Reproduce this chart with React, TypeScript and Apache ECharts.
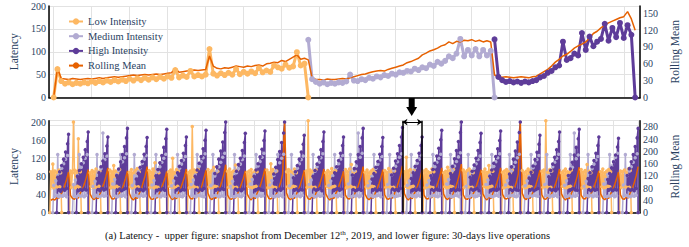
import React, { useEffect, useRef } from 'react';
import * as echarts from 'echarts';

const SERIES_NAMES = ['Low Intensity', 'Medium Intensity', 'High Intensity', 'Rolling Mean'];
const COLORS = ['#fdb863', '#b2abd2', '#5e3c99', '#e66101'];
const TEXT_COLOR = '#2a3f5f';
const FONT = "'Liberation Serif', 'Times New Roman', Times, serif";

// ---------- upper panel (snapshot, one sample per index) ----------
const topLow = [
  0, 62, 36, 30, 33, 29, 32, 30, 33, 31,
  35, 32, 36, 33, 37, 34, 38, 35, 39, 36,
  41, 37, 42, 38, 43, 39, 44, 40, 45, 41,
  46, 43, 60, 44, 48, 45, 58, 46, 49, 46,
  50, 106, 52, 48, 53, 49, 54, 50, 62, 51,
  56, 52, 57, 53, 64, 55, 59, 56, 70, 66,
  63, 72, 65, 68, 99, 70, 74, 0,
];
const TOP_MEDIUM_START = 67;
const topMedium = [
  126, 40, 34, 30, 33, 29, 32, 30, 33, 32,
  35, 50, 37, 36, 40, 38, 43, 41, 46, 44,
  49, 47, 52, 50, 55, 54, 58, 57, 63, 60,
  66, 64, 72, 69, 78, 74, 80, 90, 86, 96,
  128, 90, 104, 92, 106, 90, 104, 92, 102, 0,
];
const TOP_HIGH_START = 116;
const topHigh = [
  127, 45, 38, 34, 36, 33, 35, 32, 35, 33,
  36, 38, 44, 47, 54, 58, 66, 70, 122, 82,
  86, 96, 92, 141, 104, 133, 112, 122, 128, 161,
  124, 152, 132, 163, 130, 158, 137, 0,
];
const topRolling = [
  0, 52, 34, 33, 32, 34, 33, 32, 33, 34,
  33, 34, 35, 34, 35, 36, 37, 36, 37, 38,
  39, 40, 39, 40, 41, 40, 41, 42, 41, 42,
  43, 44, 52, 45, 46, 47, 48, 49, 48, 49,
  50, 74, 56, 52, 51, 53, 52, 54, 56, 55,
  54, 56, 55, 57, 58, 56, 60, 61, 63, 62,
  66, 64, 68, 72, 76, 68, 70, 67, 35, 32,
  32, 31, 33, 32, 32, 33, 34, 33, 35, 37,
  39, 41, 42, 44, 46, 47, 48, 47, 50, 52,
  54, 56, 58, 62, 64, 67, 70, 76, 79, 83,
  85, 88, 92, 94, 99, 96, 100, 99, 102, 101,
  103, 100, 102, 99, 101, 99, 40, 37, 36, 37,
  36, 35, 36, 37, 36, 35, 37, 38, 42, 46,
  50, 56, 63, 68, 74, 77, 82, 88, 92, 95,
  99, 106, 114, 118, 124, 129, 133, 136, 139, 142,
  144, 153, 140, 120,
];
const topLatencyTicks = [0, 50, 100, 150, 200];
const topRollingTicks = [0, 30, 60, 90, 120, 150];
const TOP_ROLLING_MAX = 163;

// ---------- lower panel (30 days, 20 samples per day) ----------
const SAMPLES_PER_DAY = 20;
// low intensity: samples 0..12 of each day
const BOTTOM_LOW_FIRST = 0;
const bottomLow = [
  [0, 90, 57, 107, 55, 92, 58, 89, 56, 94, 57, 88, 0],
  [0, 92, 56, 88, 200, 94, 55, 91, 58, 163, 56, 90, 0],
  [0, 88, 58, 93, 56, 90, 57, 96, 55, 89, 58, 92, 0],
  [0, 94, 55, 90, 57, 104, 56, 92, 58, 88, 55, 95, 0],
  [0, 89, 57, 95, 55, 88, 58, 93, 56, 97, 57, 90, 0],
  [0, 93, 56, 89, 58, 96, 55, 110, 57, 91, 56, 88, 0],
  [0, 90, 58, 94, 56, 120, 57, 89, 55, 95, 58, 92, 0],
  [0, 88, 55, 92, 57, 190, 58, 94, 56, 90, 55, 96, 0],
  [0, 95, 57, 89, 55, 93, 56, 100, 58, 88, 57, 91, 0],
  [0, 91, 56, 96, 58, 89, 57, 92, 55, 105, 56, 94, 0],
  [0, 89, 58, 92, 56, 95, 55, 88, 57, 93, 58, 90, 0],
  [0, 94, 55, 88, 57, 108, 58, 95, 56, 89, 55, 92, 0],
  [0, 90, 57, 95, 55, 91, 56, 89, 58, 96, 57, 88, 0],
  [0, 92, 56, 203, 58, 94, 57, 90, 55, 92, 56, 95, 0],
  [0, 88, 58, 93, 56, 89, 55, 97, 57, 90, 58, 93, 0],
  [0, 95, 55, 90, 57, 96, 58, 106, 56, 88, 55, 91, 0],
  [0, 89, 57, 94, 55, 88, 56, 92, 58, 95, 57, 89, 0],
  [0, 93, 56, 89, 58, 97, 57, 90, 55, 94, 56, 92, 0],
  [0, 90, 58, 122, 56, 92, 55, 95, 57, 89, 58, 94, 0],
  [0, 92, 55, 95, 57, 90, 58, 88, 56, 96, 55, 90, 0],
  [0, 88, 57, 91, 55, 100, 56, 93, 58, 89, 57, 95, 0],
  [0, 94, 56, 89, 58, 93, 57, 96, 55, 91, 56, 88, 0],
  [0, 90, 58, 96, 56, 89, 55, 104, 57, 93, 58, 91, 0],
  [0, 89, 55, 92, 57, 95, 58, 90, 56, 88, 55, 94, 0],
  [0, 93, 57, 88, 55, 91, 56, 96, 58, 92, 57, 89, 0],
  [0, 91, 56, 94, 58, 203, 57, 89, 55, 95, 56, 92, 0],
  [0, 88, 58, 92, 56, 96, 55, 90, 57, 89, 58, 94, 0],
  [0, 95, 55, 89, 57, 93, 58, 106, 56, 91, 55, 88, 0],
  [0, 90, 57, 96, 55, 88, 56, 92, 58, 95, 57, 90, 0],
  [0, 92, 56, 90, 58, 94, 57, 89, 55, 96, 56, 93, 0],
];
// medium intensity: samples 3..19 of each day
const BOTTOM_MEDIUM_FIRST = 3;
const bottomMedium = [
  [0, 60, 36, 70, 38, 128, 35, 88, 37, 98, 36, 108, 38, 118, 35, 126, 0],
  [0, 62, 37, 72, 35, 82, 38, 128, 36, 100, 37, 110, 35, 120, 38, 128, 0],
  [0, 58, 35, 69, 38, 128, 36, 89, 35, 97, 38, 176, 36, 117, 37, 125, 0],
  [0, 63, 38, 73, 36, 84, 35, 93, 37, 128, 36, 112, 38, 121, 35, 130, 0],
  [0, 60, 36, 128, 38, 80, 37, 90, 35, 99, 38, 109, 36, 118, 37, 126, 0],
  [0, 61, 37, 71, 35, 128, 38, 91, 36, 101, 35, 111, 38, 120, 36, 129, 0],
  [0, 59, 35, 70, 38, 80, 36, 128, 37, 98, 36, 107, 35, 116, 38, 124, 0],
  [0, 62, 38, 72, 36, 83, 35, 128, 38, 102, 37, 112, 36, 121, 35, 130, 0],
  [0, 60, 36, 128, 37, 81, 38, 92, 36, 101, 35, 111, 37, 122, 36, 131, 0],
  [0, 58, 37, 69, 35, 128, 36, 88, 38, 97, 36, 107, 35, 117, 38, 125, 0],
  [0, 63, 35, 73, 38, 84, 37, 128, 35, 103, 38, 113, 36, 122, 37, 131, 0],
  [0, 61, 38, 71, 36, 82, 35, 92, 37, 128, 36, 110, 38, 120, 35, 129, 0],
  [0, 59, 36, 128, 35, 79, 38, 89, 36, 98, 37, 108, 35, 117, 38, 125, 0],
  [0, 62, 37, 72, 38, 128, 36, 91, 35, 101, 38, 111, 36, 121, 37, 130, 0],
  [0, 60, 35, 70, 36, 81, 38, 128, 37, 99, 35, 108, 38, 118, 36, 126, 0],
  [0, 63, 38, 128, 35, 83, 37, 93, 36, 103, 38, 176, 35, 122, 37, 131, 0],
  [0, 59, 36, 69, 38, 80, 35, 128, 36, 98, 37, 107, 38, 116, 35, 124, 0],
  [0, 62, 37, 128, 36, 83, 38, 93, 35, 102, 36, 112, 37, 122, 38, 130, 0],
  [0, 60, 35, 70, 38, 128, 36, 90, 37, 99, 35, 109, 38, 118, 36, 127, 0],
  [0, 61, 38, 71, 35, 82, 37, 128, 38, 101, 36, 111, 35, 120, 37, 129, 0],
  [0, 63, 36, 73, 37, 128, 35, 93, 36, 103, 38, 113, 37, 123, 35, 132, 0],
  [0, 58, 37, 128, 35, 79, 38, 89, 37, 98, 35, 108, 36, 117, 38, 125, 0],
  [0, 62, 35, 72, 38, 83, 36, 128, 35, 102, 37, 112, 38, 121, 36, 130, 0],
  [0, 61, 38, 71, 36, 128, 37, 92, 38, 101, 36, 111, 35, 121, 37, 129, 0],
  [0, 59, 36, 70, 35, 80, 38, 128, 36, 99, 38, 108, 37, 117, 36, 126, 0],
  [0, 62, 37, 128, 38, 82, 35, 92, 37, 101, 36, 111, 38, 120, 35, 129, 0],
  [0, 60, 35, 70, 36, 81, 38, 128, 35, 100, 37, 176, 36, 119, 38, 127, 0],
  [0, 58, 38, 69, 37, 128, 36, 88, 38, 97, 35, 107, 37, 116, 36, 124, 0],
  [0, 63, 36, 73, 35, 84, 37, 128, 36, 103, 38, 113, 35, 122, 37, 131, 0],
  [0, 61, 37, 128, 38, 82, 36, 92, 35, 101, 37, 111, 36, 121, 38, 130, 0],
];
// high intensity: samples 7..19 of each day, then back to 0
const BOTTOM_HIGH_FIRST = 7;
const bottomHigh = [
  [0, 78, 50, 90, 47, 104, 52, 118, 49, 134, 53, 152, 173],
  [0, 80, 48, 93, 51, 108, 49, 122, 52, 139, 50, 157, 178],
  [0, 75, 51, 88, 48, 101, 53, 114, 50, 130, 52, 147, 167],
  [0, 82, 49, 96, 52, 112, 48, 128, 51, 146, 53, 165, 186],
  [0, 74, 52, 87, 49, 100, 51, 113, 48, 129, 52, 146, 166],
  [0, 81, 48, 95, 51, 110, 50, 126, 53, 144, 49, 163, 184],
  [0, 76, 50, 88, 53, 102, 48, 115, 51, 131, 50, 148, 167],
  [0, 80, 51, 94, 48, 109, 52, 124, 49, 141, 53, 160, 182],
  [0, 86, 49, 101, 52, 118, 50, 136, 53, 156, 51, 177, 200],
  [0, 79, 52, 91, 49, 106, 51, 120, 48, 137, 52, 155, 175],
  [0, 80, 48, 94, 51, 108, 53, 123, 50, 140, 49, 159, 180],
  [0, 85, 51, 100, 48, 117, 52, 135, 49, 155, 53, 176, 200],
  [0, 77, 49, 90, 52, 104, 48, 118, 51, 134, 50, 151, 171],
  [0, 80, 52, 93, 49, 107, 51, 122, 53, 139, 48, 157, 178],
  [0, 75, 48, 88, 51, 101, 53, 115, 49, 131, 52, 148, 167],
  [0, 83, 51, 97, 48, 112, 50, 128, 52, 146, 49, 165, 186],
  [0, 74, 49, 86, 52, 100, 48, 113, 51, 129, 50, 146, 166],
  [0, 83, 52, 98, 49, 114, 51, 130, 48, 148, 53, 167, 188],
  [0, 75, 48, 88, 51, 102, 49, 115, 52, 131, 50, 148, 167],
  [0, 81, 51, 95, 48, 109, 52, 125, 50, 142, 49, 161, 182],
  [0, 86, 49, 102, 52, 119, 48, 137, 51, 157, 50, 177, 200],
  [0, 78, 52, 91, 49, 105, 51, 120, 53, 137, 48, 155, 175],
  [0, 80, 48, 94, 51, 109, 50, 124, 49, 141, 52, 159, 180],
  [0, 85, 51, 101, 48, 118, 52, 136, 50, 156, 49, 177, 200],
  [0, 76, 49, 89, 52, 103, 48, 117, 51, 133, 53, 151, 171],
  [0, 79, 52, 93, 49, 107, 51, 122, 48, 139, 52, 157, 178],
  [0, 82, 48, 96, 51, 111, 53, 127, 50, 144, 49, 163, 184],
  [0, 75, 51, 88, 48, 101, 52, 115, 49, 131, 51, 148, 167],
  [0, 73, 49, 86, 52, 99, 48, 112, 51, 127, 50, 145, 164],
  [0, 82, 52, 97, 49, 112, 51, 128, 48, 146, 53, 165, 186],
];
// rolling mean: 10 samples per day
const ROLLING_SAMPLES_PER_DAY = 10;
const bottomRolling = [
  [40, 44, 41, 48, 46, 58, 70, 88, 108, 132], [56, 46, 43, 52, 47, 64, 74, 92, 114, 140],
  [60, 48, 42, 50, 45, 60, 78, 95, 118, 146], [58, 45, 44, 54, 48, 66, 72, 90, 112, 136],
  [62, 47, 41, 49, 46, 62, 76, 98, 120, 150], [55, 44, 43, 52, 47, 60, 74, 92, 110, 134],
  [60, 48, 42, 50, 45, 64, 78, 96, 116, 142], [58, 46, 44, 53, 48, 62, 72, 90, 114, 138],
  [63, 47, 42, 51, 46, 66, 80, 100, 124, 156], [57, 45, 43, 50, 47, 61, 75, 93, 112, 136],
  [60, 48, 41, 52, 45, 63, 77, 95, 118, 144], [59, 46, 44, 51, 48, 65, 79, 98, 126, 298],
  [64, 47, 42, 49, 46, 60, 73, 91, 113, 138], [58, 45, 43, 53, 47, 64, 76, 94, 116, 142],
  [61, 48, 41, 50, 45, 62, 74, 92, 112, 135], [57, 46, 44, 52, 48, 66, 78, 97, 120, 150],
  [60, 47, 42, 49, 46, 61, 75, 93, 114, 140], [58, 45, 43, 51, 47, 64, 79, 99, 122, 152],
  [62, 48, 41, 50, 45, 62, 74, 92, 113, 138], [57, 46, 44, 53, 48, 65, 77, 96, 118, 146],
  [60, 47, 42, 51, 46, 66, 80, 100, 125, 158], [58, 45, 43, 49, 47, 61, 75, 93, 114, 140],
  [61, 48, 41, 52, 45, 63, 77, 95, 118, 146], [59, 46, 44, 50, 48, 65, 79, 98, 126, 298],
  [63, 47, 42, 51, 46, 60, 73, 91, 113, 138], [58, 45, 43, 52, 47, 64, 76, 94, 116, 142],
  [61, 48, 41, 50, 45, 63, 77, 96, 119, 148], [57, 46, 44, 53, 48, 62, 74, 92, 112, 136],
  [60, 47, 42, 49, 46, 61, 73, 90, 110, 132], [58, 45, 43, 51, 47, 65, 78, 97, 120, 150],
];
const BOTTOM_X_MAX = 30.1;
const BOTTOM_GRID_STEP = 1.305;
const bottomLatencyTicks = [0, 40, 80, 120, 160, 200];
const bottomRollingTicks = [0, 40, 80, 120, 160, 200, 240, 280];
const BOTTOM_LATENCY_MAX = 203;
const BOTTOM_ROLLING_MAX = 300;
// horizontal guide lines of the lower panel (own unlabelled scale)
const BOTTOM_GUIDE_RANGE = [0.266, 3.135];
const HIGHLIGHT_DAY = [18, 19];

const CAPTION =
  '(a) Latency -  upper figure: snapshot from December 12{sup|th}, 2019, and lower figure: 30-days live operations';

function indexed(values: number[], start: number) {
  return values.map((v, i) => [start + i, v]);
}

function daily(rows: number[][], first: number, perDay: number, dropAfter: boolean, breakAfter: boolean) {
  const out: any[] = [];
  rows.forEach((row, d) => {
    row.forEach((v, j) => out.push([d + (first + j + 1) / perDay, v]));
    if (dropAfter) out.push([d + 1, 0]);
    if (breakAfter) out.push([d + 1.01, null]);
  });
  return out;
}

function line(name: string, color: string, data: any[], xi: number, yi: number, o: any = {}) {
  return {
    type: 'line',
    name,
    data,
    xAxisIndex: xi,
    yAxisIndex: yi,
    symbol: o.symbol ?? 'circle',
    symbolSize: o.symbolSize ?? 5,
    showSymbol: o.symbol !== 'none',
    showAllSymbol: true,
    connectNulls: false,
    silent: true,
    animation: false,
    itemStyle: { color },
    lineStyle: { color, width: o.width ?? 1.5 },
    emphasis: { disabled: true },
    ...(o.extra || {}),
  };
}

const axisLine = { show: true, onZero: false, lineStyle: { color: '#000', width: 1.5 } };
const labelStyle = { color: TEXT_COLOR, fontFamily: FONT, fontSize: 10, margin: 3 };
const nameStyle = { color: TEXT_COLOR, fontFamily: FONT, fontSize: 11.5 };
const gridLine = { show: true, lineStyle: { color: '#e2e2e2', width: 1 } };

function buildOption() {
  return {
    animation: false,
    backgroundColor: '#fff',
    textStyle: { fontFamily: FONT },
    grid: [
      { left: 32.5, right: 41.5, top: 6, height: 91.5 },
      { left: 32.5, right: 41.5, top: 120.7, height: 91.8 },
    ],
    legend: {
      show: true,
      data: SERIES_NAMES,
      orient: 'vertical',
      left: 68,
      top: 16,
      itemWidth: 14,
      itemHeight: 8,
      itemGap: 3.7,
      padding: 0,
      textStyle: { color: TEXT_COLOR, fontFamily: FONT, fontSize: 10.5, lineHeight: 10 },
      selectedMode: false,
    },
    xAxis: [
      {
        gridIndex: 0, type: 'value', min: -1.25, max: 154.3, splitNumber: 15,
        axisLine, axisTick: { show: false }, axisLabel: { show: false }, splitLine: gridLine,
      },
      {
        gridIndex: 1, type: 'value', min: 0, max: BOTTOM_X_MAX, interval: BOTTOM_GRID_STEP,
        axisLine, axisTick: { show: false }, axisLabel: { show: false }, splitLine: gridLine,
      },
    ],
    yAxis: [
      {
        gridIndex: 0, type: 'value', position: 'left', min: topLatencyTicks[0],
        max: topLatencyTicks[topLatencyTicks.length - 1], interval: topLatencyTicks[1] - topLatencyTicks[0],
        name: 'Latency', nameLocation: 'middle', nameGap: 22, nameTextStyle: nameStyle,
        axisLine, axisTick: { show: false }, axisLabel: labelStyle, splitLine: gridLine,
      },
      {
        gridIndex: 0, type: 'value', position: 'right', min: topRollingTicks[0], max: TOP_ROLLING_MAX,
        interval: topRollingTicks[1] - topRollingTicks[0],
        name: 'Rolling Mean', nameLocation: 'middle', nameGap: 24, nameTextStyle: nameStyle,
        axisLine, axisTick: { show: false }, axisLabel: { ...labelStyle, showMaxLabel: false }, splitLine: { show: false },
      },
      {
        gridIndex: 1, type: 'value', position: 'left', min: bottomLatencyTicks[0], max: BOTTOM_LATENCY_MAX,
        interval: bottomLatencyTicks[1] - bottomLatencyTicks[0],
        name: 'Latency', nameLocation: 'middle', nameGap: 22, nameTextStyle: nameStyle,
        axisLine, axisTick: { show: false }, axisLabel: { ...labelStyle, showMaxLabel: false }, splitLine: { show: false },
      },
      {
        gridIndex: 1, type: 'value', position: 'right', min: bottomRollingTicks[0], max: BOTTOM_ROLLING_MAX,
        interval: bottomRollingTicks[1] - bottomRollingTicks[0],
        name: 'Rolling Mean', nameLocation: 'middle', nameGap: 24, nameTextStyle: nameStyle,
        axisLine, axisTick: { show: false }, axisLabel: { ...labelStyle, showMaxLabel: false }, splitLine: { show: false },
      },
      {
        gridIndex: 1, type: 'value', position: 'left', min: BOTTOM_GUIDE_RANGE[0], max: BOTTOM_GUIDE_RANGE[1],
        splitNumber: 3, axisLine: { show: false }, axisTick: { show: false }, axisLabel: { show: false },
        splitLine: gridLine,
      },
    ],
    series: [
      line(SERIES_NAMES[0], COLORS[0], indexed(topLow, 0), 0, 0, { symbolSize: 6, width: 3 }),
      line(SERIES_NAMES[1], COLORS[1], indexed(topMedium, TOP_MEDIUM_START), 0, 0, { symbolSize: 6, width: 3 }),
      line(SERIES_NAMES[2], COLORS[2], indexed(topHigh, TOP_HIGH_START), 0, 0, { symbolSize: 6, width: 3 }),
      line(SERIES_NAMES[3], COLORS[3], indexed(topRolling, 0), 0, 1, { symbol: 'none', width: 1.5 }),
      line(SERIES_NAMES[0], COLORS[0], daily(bottomLow, BOTTOM_LOW_FIRST, SAMPLES_PER_DAY, false, true), 1, 2, {
        symbolSize: 3.5, width: 1.5,
        extra: {
          markLine: {
            silent: true, symbol: 'none', animation: false, label: { show: false },
            lineStyle: { color: '#000', width: 1.5, type: 'solid' },
            data: [
              { xAxis: HIGHLIGHT_DAY[0] },
              { xAxis: HIGHLIGHT_DAY[1] },
              [
                { coord: [HIGHLIGHT_DAY[0], 200], symbol: 'arrow', symbolSize: 5, lineStyle: { width: 1 } },
                { coord: [HIGHLIGHT_DAY[1], 200], symbol: 'arrow', symbolSize: 5 },
              ],
            ],
          },
        },
      }),
      line(SERIES_NAMES[1], COLORS[1], daily(bottomMedium, BOTTOM_MEDIUM_FIRST, SAMPLES_PER_DAY, false, true), 1, 2, { symbolSize: 3.5, width: 1.5 }),
      line(SERIES_NAMES[2], COLORS[2], daily(bottomHigh, BOTTOM_HIGH_FIRST, SAMPLES_PER_DAY, true, true), 1, 2, { symbolSize: 3.5, width: 1.5 }),
      line(SERIES_NAMES[3], COLORS[3], daily(bottomRolling, 0, ROLLING_SAMPLES_PER_DAY, false, false), 1, 3, { symbol: 'none', width: 1.5 }),
    ],
    graphic: [
      { type: 'rect', shape: { x: 408.7, y: 97.5, width: 6, height: 10 }, style: { fill: '#000' }, silent: true },
      { type: 'polygon', shape: { points: [[406.2, 107], [417.2, 107], [411.7, 116]] }, style: { fill: '#000' }, silent: true },
      {
        type: 'text', x: 327.5, y: 235, silent: true,
        style: {
          text: CAPTION, fill: '#111', fontFamily: FONT, fontSize: 10.5,
          align: 'center', verticalAlign: 'middle',
          rich: { sup: { fontSize: 7, fontFamily: FONT, fill: '#111', padding: [0, 0, 5, 0] } },
        },
      },
    ],
  };
}

export default function App() {
  const ref = useRef<HTMLDivElement>(null);
  useEffect(() => {
    if (!ref.current) return;
    const chart = echarts.init(ref.current, undefined, { renderer: 'svg' });
    chart.setOption(buildOption() as any);
    return () => chart.dispose();
  }, []);
  return (
    <div
      ref={ref}
      style={{ position: 'fixed', left: 0, top: 0, width: 689, height: 247, background: '#fff' }}
    />
  );
}
